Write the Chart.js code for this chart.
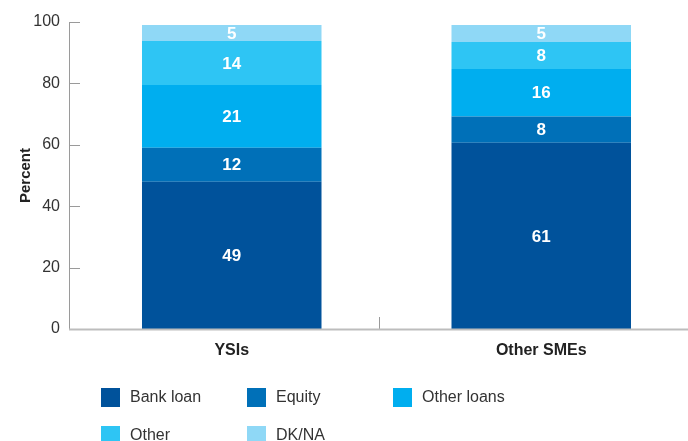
<!DOCTYPE html>
<html>
<head>
<meta charset="utf-8">
<script src="https://cdn.jsdelivr.net/npm/chart.js@4.4.0/dist/chart.umd.js"></script>
<style>
  html, body { margin: 0; padding: 0; background: #fff; overflow: hidden; }
  #wrap { width: 688px; height: 441px; overflow: hidden; }
</style>
</head>
<body>
<div id="wrap"><canvas id="chart" width="696" height="441"></canvas></div>
<script>
// categories and series
const categories = ['YSIs', 'Other SMEs'];
const seriesNames = ['Bank loan', 'Equity', 'Other loans', 'Other', 'DK/NA'];
const bankLoan   = [48.0, 60.7];
const equity     = [11.0, 8.5];
const otherLoans = [20.5, 15.5];
const other      = [14.3, 8.8];
const dkna       = [5.2, 5.5];
// printed labels on the segments
const bankLoanLabels   = ['49', '61'];
const equityLabels     = ['12', '8'];
const otherLoansLabels = ['21', '16'];
const otherLabels      = ['14', '8'];
const dknaLabels       = ['5', '5'];
const yTicks = [0, 20, 40, 60, 80, 100];

const colors = ['#00529b', '#0070b8', '#00aeef', '#2ec5f4', '#8fd8f6'];
const FONT = "'Liberation Sans', Arial, Helvetica, sans-serif";
const AXIS_X = 69; // where the y axis line sits

const seriesData = [bankLoan, equity, otherLoans, other, dkna];
const seriesLabels = [bankLoanLabels, equityLabels, otherLoansLabels, otherLabels, dknaLabels];

const datasets = seriesNames.map((name, i) => ({
    label: name,
    data: seriesData[i],
    backgroundColor: colors[i],
    borderWidth: 0,
    barPercentage: 0.58,
    categoryPercentage: 1.0,
    valueLabels: seriesLabels[i]
}));

// white numbers centred in each segment
const segmentLabels = {
    id: 'segmentLabels',
    afterDatasetsDraw(chart) {
        const ctx = chart.ctx;
        ctx.save();
        ctx.fillStyle = '#ffffff';
        ctx.font = 'bold 17px ' + FONT;
        ctx.textAlign = 'center';
        ctx.textBaseline = 'middle';
        chart.data.datasets.forEach((ds, i) => {
            const meta = chart.getDatasetMeta(i);
            meta.data.forEach((bar, j) => {
                const y = (bar.y + bar.base) / 2 + 1;
                ctx.fillText(ds.valueLabels[j], bar.x, y);
            });
        });
        ctx.restore();
    }
};

// axis lines, inward ticks and the legend
const axesAndLegend = {
    id: 'axesAndLegend',
    afterDraw(chart) {
        const ctx = chart.ctx;
        const area = chart.chartArea;
        const yScale = chart.scales.y;
        ctx.save();

        // y axis + inward ticks
        ctx.strokeStyle = '#9a9a9a';
        ctx.lineWidth = 1;
        ctx.beginPath();
        ctx.moveTo(AXIS_X + 0.5, area.top);
        ctx.lineTo(AXIS_X + 0.5, area.bottom);
        yTicks.forEach(v => {
            const y = Math.round(yScale.getPixelForValue(v)) + 0.5;
            ctx.moveTo(AXIS_X, y);
            ctx.lineTo(AXIS_X + 11, y);
        });
        // category divider tick
        const mid = Math.round((AXIS_X + 688) / 2) + 0.5;
        ctx.moveTo(mid, area.bottom - 12);
        ctx.lineTo(mid, area.bottom);
        ctx.stroke();

        // x axis line
        ctx.strokeStyle = '#bdbdbd';
        ctx.lineWidth = 2;
        ctx.beginPath();
        ctx.moveTo(AXIS_X, area.bottom + 0.5);
        ctx.lineTo(area.right, area.bottom + 0.5);
        ctx.stroke();

        // legend, three columns
        ctx.font = '16px ' + FONT;
        ctx.textBaseline = 'middle';
        ctx.textAlign = 'left';
        seriesNames.forEach((name, i) => {
            const col = i % 3, row = Math.floor(i / 3);
            const x = 101 + col * 146;
            const y = 388 + row * 38;
            ctx.fillStyle = colors[i];
            ctx.fillRect(x, y, 19, 19);
            ctx.fillStyle = '#333333';
            ctx.fillText(name, x + 29, y + 10);
        });
        ctx.restore();
    }
};

new Chart(document.getElementById('chart').getContext('2d'), {
    type: 'bar',
    data: { labels: categories, datasets: datasets },
    options: {
        responsive: false,
        animation: false,
        layout: { padding: { top: 22, right: 0, bottom: 0, left: 0 } },
        plugins: {
            legend: { display: false },
            tooltip: { enabled: false }
        },
        scales: {
            x: {
                stacked: true,
                grid: { display: false },
                border: { display: false },
                ticks: {
                    color: '#222',
                    padding: 4,
                    font: { family: FONT, size: 16, weight: 'bold' }
                },
                afterFit(scale) { scale.height = 112; }
            },
            y: {
                stacked: true,
                min: 0,
                max: 100,
                afterBuildTicks(scale) { scale.ticks = yTicks.map(v => ({ value: v })); },
                grid: { display: false, drawTicks: false },
                border: { display: false },
                ticks: {
                    color: '#333',
                    padding: 17,
                    font: { family: FONT, size: 16 }
                },
                title: {
                    display: true,
                    text: 'Percent',
                    color: '#222',
                    padding: { top: 17, bottom: 0 },
                    font: { family: FONT, size: 15, weight: 'bold' }
                },
                afterFit(scale) {
                    scale.width = 77;
                    scale.paddingTop = 0;
                    scale.paddingBottom = 0;
                }
            }
        }
    },
    plugins: [segmentLabels, axesAndLegend]
});
</script>
</body>
</html>
